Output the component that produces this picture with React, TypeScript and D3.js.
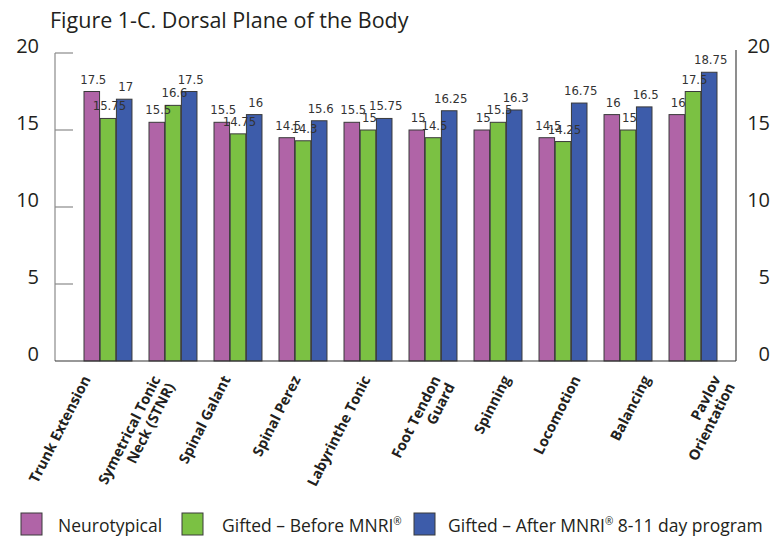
import * as d3 from 'd3';

const categories = [
  'Trunk Extension',
  'Symetrical Tonic Neck (STNR)',
  'Spinal Galant',
  'Spinal Perez',
  'Labyrinthe Tonic',
  'Foot Tendon Guard',
  'Spinning',
  'Locomotion',
  'Balancing',
  'Pavlov Orientation',
];

const labelLines = [
  ['Trunk Extension'],
  ['Symetrical Tonic', 'Neck (STNR)'],
  ['Spinal Galant'],
  ['Spinal Perez'],
  ['Labyrinthe Tonic'],
  ['Foot Tendon', 'Guard'],
  ['Spinning'],
  ['Locomotion'],
  ['Balancing'],
  ['Pavlov', 'Orientation'],
];

const neurotypical = [17.5, 15.5, 15.5, 14.5, 15.5, 15, 15, 14.5, 16, 16];
const giftedBefore = [15.75, 16.6, 14.75, 14.3, 15, 14.5, 15.5, 14.25, 15, 17.5];
const giftedAfter = [17, 17.5, 16, 15.6, 15.75, 16.25, 16.3, 16.75, 16.5, 18.75];

// legend names split so the ® can be set as a superscript
const seriesNames = [
  ['Neurotypical'],
  ['Gifted – Before MNRI', '®', ''],
  ['Gifted – After MNRI', '®', ' 8-11 day program'],
];
const seriesColors = ['#b064a7', '#7bc143', '#3d5caa'];
const yTicks = [0, 5, 10, 15, 20];

const W = 783;
const H = 536;
const left = 55;
const right = 736;
const top = 53;
const bottom = 361;

const sans = '"Open Sans", "Noto Sans", sans-serif';
const narrow = '"Liberation Sans Narrow", "DejaVu Sans Condensed", "Roboto", sans-serif';

export default function App() {
  const series = [neurotypical, giftedBefore, giftedAfter];

  const y = d3.scaleLinear().domain([0, 20]).range([bottom, top]);
  const x0 = d3.scaleBand<string>().domain(categories).range([84, 717]).paddingInner(0.262).paddingOuter(0);
  const x1 = d3.scaleBand<number>().domain([0, 1, 2]).range([0, x0.bandwidth()]).paddingInner(0.04);
  // labels were laid out a little wider than the bars in the source
  const xl = d3.scalePoint<string>().domain(categories).range([88, 718]);

  const legendBox = [21, 182, 414];
  const legendText = [58, 222, 448];

  return (
    <svg width={W} height={H} style={{ position: 'absolute', left: 0, top: 0, background: '#fff' }}>
      <text x={50} y={28} fontFamily={sans} fontSize={21.5} fill="#231f20">
        Figure 1-C. Dorsal Plane of the Body
      </text>

      {/* axes */}
      <line x1={left} x2={left} y1={top} y2={bottom} stroke="#8a8a8a" strokeWidth={1.2} />
      <line x1={right} x2={right} y1={top - 3} y2={bottom} stroke="#444" strokeWidth={1.2} />
      {yTicks.map((t) => (
        <g key={t}>
          {t > 0 && <line x1={left} x2={left + 18} y1={y(t)} y2={y(t)} stroke="#8a8a8a" strokeWidth={1.2} />}
          <text x={39} y={y(t)} textAnchor="end" fontFamily={sans} fontSize={20} fill="#231f20">{t}</text>
          <text x={770} y={y(t)} textAnchor="end" fontFamily={sans} fontSize={20} fill="#231f20">{t}</text>
        </g>
      ))}

      {/* bars */}
      {categories.map((c, i) => (
        <g key={c} transform={`translate(${x0(c)},0)`}>
          {series.map((s, k) => (
            <rect
              key={k}
              x={x1(k)}
              y={y(s[i])}
              width={x1.bandwidth()}
              height={bottom - y(s[i])}
              fill={seriesColors[k]}
              stroke="#3a3a3a"
              strokeWidth={1}
            />
          ))}
          {series.map((s, k) => (
            <text
              key={'v' + k}
              x={(x1(k) ?? 0) + x1.bandwidth() / 2 + 1.5}
              y={y(s[i]) - 8}
              textAnchor="middle"
              fontFamily={narrow}
              fontSize={13}
              fill="#333"
            >
              {s[i]}
            </text>
          ))}
        </g>
      ))}

      <line x1={left} x2={right} y1={bottom} y2={bottom} stroke="#333" strokeWidth={1.2} />

      {/* category labels */}
      {categories.map((c, i) => (
        <text
          key={c}
          transform={`translate(${(xl(c) ?? 0) + 3},379) rotate(-63)`}
          textAnchor="end"
          fontFamily={sans}
          fontWeight="bold"
          fontSize={14.5}
          fill="#231f20"
        >
          {labelLines[i].map((l, j) => (
            <tspan key={j} x={0} dy={j === 0 ? 0 : 16}>{l}</tspan>
          ))}
        </text>
      ))}

      {/* legend */}
      {seriesNames.map((n, k) => (
        <g key={k}>
          <rect x={legendBox[k]} y={513} width={21} height={22} fill={seriesColors[k]} stroke="#3a3a3a" strokeWidth={1} />
          <text x={legendText[k]} y={531.5} fontFamily={sans} fontSize={17.5} fill="#231f20">
            {n[0]}
            {n.length > 1 && (
              <>
                <tspan fontSize={10} dy={-7}>{n[1]}</tspan>
                <tspan dy={7}>{n[2]}</tspan>
              </>
            )}
          </text>
        </g>
      ))}
    </svg>
  );
}
